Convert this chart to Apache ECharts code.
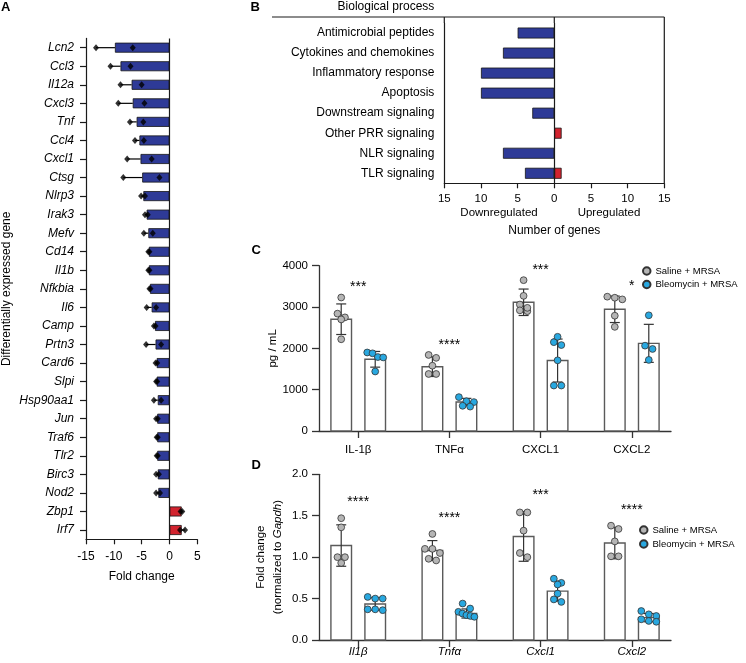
<!DOCTYPE html>
<html><head><meta charset="utf-8">
<script src="https://cdn.jsdelivr.net/npm/echarts@6/dist/echarts.min.js"></script>
<style>html,body{margin:0;padding:0;background:#fff}#c{width:746px;height:663px}</style>
</head><body><div id="c"></div>
<script>
// ---------- Panel A data ----------
const genes = ['Lcn2','Ccl3','Il12a','Cxcl3','Tnf','Ccl4','Cxcl1','Ctsg','Nlrp3','Irak3','Mefv','Cd14','Il1b','Nfkbia','Il6','Camp','Prtn3','Card6','Slpi','Hsp90aa1','Jun','Traf6','Tlr2','Birc3','Nod2','Zbp1','Irf7'];
const geneFold = [-9.8,-8.8,-6.8,-6.6,-5.9,-5.4,-5.2,-4.9,-4.7,-4.1,-3.8,-3.7,-3.7,-3.5,-3.2,-2.6,-2.5,-2.3,-2.3,-2.1,-2.2,-2.2,-2.2,-2.1,-2.0,2.2,2.2];
const geneRep1 = [-13.2,-10.6,-8.8,-9.2,-7.1,-6.2,-7.6,-8.3,-5.1,-4.4,-4.6,-3.8,-3.8,-3.6,-4.1,-2.8,-4.2,-2.5,-2.4,-2.8,-2.4,-2.3,-2.3,-2.4,-2.4,2.3,2.8];
const geneRep2 = [-6.6,-7.0,-5.0,-4.5,-4.7,-4.6,-3.2,-1.8,-4.4,-3.9,-3.0,-3.6,-3.6,-3.4,-2.4,-2.5,-1.5,-2.2,-2.2,-1.5,-2.1,-2.1,-2.1,-1.9,-1.7,2.0,1.9];
const foldTicks = [-15, 5, 5]; // min, max, interval

// ---------- Panel B data ----------
const processes = ['Antimicrobial peptides','Cytokines and chemokines','Inflammatory response','Apoptosis','Downstream signaling','Other PRR signaling','NLR signaling','TLR signaling'];
const downGenes = [5,7,10,10,3,0,7,4];
const upGenes = [0,0,0,0,0,1,0,1];

// ---------- Panel C data ----------
const cytokines = ['IL-1β','TNFα','CXCL1','CXCL2'];
const cSalineMean = [2705,1556,3115,2945];
const cSalineSD = [370,237,320,320];
const cBleoMean = [1735,700,1705,2121];
const cBleoSD = [190,90,520,460];
const cSalinePts = [[3230,2840,2750,2700,2220],[1840,1770,1580,1380,1380],[3650,3270,3060,2920,2900,2980],[3225,3250,3185,2790,2520]];
const cBleoPts = [[1900,1880,1790,1780,1440],[820,720,700,610,590],[2150,2280,2080,1710,1100,1100],[2800,2065,1985,1720]];
const cSig = ['***','****','***','*'];

// ---------- Panel D data ----------
const dGenes = ['Il1β','Tnfα','Cxcl1','Cxcl2'];
const dSalineMean = [1.14,1.08,1.25,1.17];
const dSalineSD = [0.25,0.12,0.30,0.19];
const dBleoMean = [0.435,0.32,0.59,0.27];
const dBleoSD = [0.075,0.055,0.12,0.05];
const dSalinePts = [[1.47,1.36,1.0,0.93,1.0],[1.28,1.1,1.1,1.05,0.96,0.98],[1.54,1.54,1.32,1.05,1.0],[1.38,1.34,1.19,1.01,1.01]];
const dBleoPts = [[0.52,0.5,0.5,0.37,0.37,0.36],[0.44,0.38,0.34,0.32,0.30,0.29,0.28],[0.74,0.69,0.67,0.56,0.49,0.46],[0.35,0.31,0.29,0.25,0.23,0.22]];
const dSig = ['****','****','***','****'];

const groupNames = ['Saline + MRSA','Bleomycin + MRSA'];

// ---------- styling ----------
const FONT = '"Liberation Sans", Arial, Helvetica, sans-serif';
const BLUE = '#2E3A97', RED = '#D2232E', GRAY_PT = '#B5B5B5', CYAN_PT = '#29A8E0';
const AX = '#1a1a1a';

const chart = echarts.init(document.getElementById('c'), null, {renderer: 'canvas'});

// row-based scatter spreading (pixel space)
function swarm(ys, step, thr, maxSpan) {
  const order = ys.map((y, k) => k).sort((a, b) => ys[a] - ys[b]);
  const xs = new Array(ys.length);
  let row = [];
  const flush = () => {
    const n = row.length;
    const s = n > 1 ? Math.min(step, maxSpan / (n - 1)) : 0;
    row.forEach((k, j) => { xs[k] = (j - (n - 1) / 2) * s; });
    row = [];
  };
  for (const k of order) {
    if (row.length && ys[k] - ys[row[0]] >= thr) flush();
    row.push(k);
  }
  flush();
  return xs;
}

function groupSeries(name, gi, means, sds, pts, color, side) {
  return {
    type: 'custom', name: name, xAxisIndex: gi, yAxisIndex: gi, z: 3,
    itemStyle: {color: color, borderColor: '#333', borderWidth: 0.8},
    data: means.map((m, i) => [i, m]),
    encode: {x: 0, y: 1},
    renderItem: function (params, api) {
      const i = params.dataIndex;
      const m = means[i], sd = sds[i];
      const base = api.coord([i, 0]);
      const cx = base[0] + side * 17;
      const top = api.coord([i, m])[1];
      const hi = api.coord([i, m + sd])[1];
      const lo = api.coord([i, m - sd])[1];
      const ch = [];
      ch.push({type: 'rect', shape: {x: cx - 10.3, y: top, width: 20.6, height: base[1] - top},
        style: {fill: '#fff', stroke: '#5a5a5a', lineWidth: 1.4}});
      ch.push({type: 'line', shape: {x1: cx, y1: hi, x2: cx, y2: lo}, style: {stroke: '#333', lineWidth: 1.2}});
      ch.push({type: 'line', shape: {x1: cx - 5, y1: hi, x2: cx + 5, y2: hi}, style: {stroke: '#333', lineWidth: 1.2}});
      ch.push({type: 'line', shape: {x1: cx - 5, y1: lo, x2: cx + 5, y2: lo}, style: {stroke: '#333', lineWidth: 1.2}});
      const ys = pts[i].map(v => api.coord([i, v])[1]);
      const xs = swarm(ys, 7.5, 5, 16);
      ys.forEach((y, k) => {
        ch.push({type: 'circle', shape: {cx: cx + xs[k], cy: y, r: 3.4},
          style: {fill: color, stroke: '#333', lineWidth: 0.8}});
      });
      return {type: 'group', children: ch};
    }
  };
}

function sigSeries(gi, sig, sm, ssd, sp, bm, bsd, bp, gap) {
  return {
    type: 'custom', xAxisIndex: gi, yAxisIndex: gi, z: 4, silent: true,
    data: sig.map((s, i) => [i, sm[i]]),
    encode: {x: 0, y: 1},
    renderItem: function (params, api) {
      const i = params.dataIndex;
      const top = Math.max(...sp[i], ...bp[i], sm[i] + ssd[i], bm[i] + bsd[i]);
      const p = api.coord([i, top]);
      return {type: 'text', x: p[0], y: p[1] - gap,
        style: {text: sig[i], fill: '#000', font: '14px ' + FONT, align: 'center', verticalAlign: 'middle'}};
    }
  };
}

const txt = (s, extra) => Object.assign({color: '#000', fontFamily: FONT, fontSize: s}, extra || {});

const option = {
  backgroundColor: '#fff',
  animation: false,
  textStyle: {fontFamily: FONT},
  grid: [
    {left: 86, top: 38.4, width: 111.3, height: 500.9},
    {left: 444.3, top: 23, width: 220, height: 160.3},
    {left: 319, top: 265.7, width: 352, height: 165.3},
    {left: 319, top: 474.3, width: 352, height: 165.7}
  ],
  xAxis: [
    {gridIndex: 0, type: 'value', min: foldTicks[0], max: foldTicks[1], interval: foldTicks[2],
      axisLine: {show: true, onZero: false, lineStyle: {color: AX, width: 1.2}},
      axisTick: {show: true, length: 5, lineStyle: {color: AX, width: 1.2}},
      axisLabel: txt(12, {margin: 11}), splitLine: {show: false},
      name: 'Fold change', nameLocation: 'middle', nameGap: 31, nameTextStyle: txt(12)},
    {gridIndex: 1, type: 'value', min: -15, max: 15, interval: 5,
      axisLine: {show: true, onZero: false, lineStyle: {color: AX, width: 1.2}},
      axisTick: {show: true, length: 5, lineStyle: {color: AX, width: 1.2}},
      axisLabel: txt(11.5, {margin: 10, formatter: v => String(Math.abs(v))}), splitLine: {show: false},
      name: 'Number of genes', nameLocation: 'middle', nameGap: 41, nameTextStyle: txt(12)},
    {gridIndex: 2, type: 'value', min: -0.43, max: 3.43,
      axisLine: {show: true, onZero: false, lineStyle: {color: '#333', width: 1.3}},
      axisTick: {show: true, length: 7, customValues: [0, 1, 2, 3], lineStyle: {color: '#333', width: 1.3}},
      axisLabel: txt(11.5, {margin: 13, customValues: [0, 1, 2, 3], formatter: v => cytokines[Math.round(v)]}),
      splitLine: {show: false}},
    {gridIndex: 3, type: 'value', min: -0.43, max: 3.43,
      axisLine: {show: true, onZero: false, lineStyle: {color: '#333', width: 1.3}},
      axisTick: {show: true, length: 7, customValues: [0, 1, 2, 3], lineStyle: {color: '#333', width: 1.3}},
      axisLabel: txt(11.5, {margin: 6, fontStyle: 'italic', customValues: [0, 1, 2, 3], formatter: v => dGenes[Math.round(v)]}),
      splitLine: {show: false}}
  ],
  yAxis: [
    {gridIndex: 0, type: 'category', data: genes, inverse: true,
      axisLine: {show: true, onZero: false, lineStyle: {color: AX, width: 1.2}},
      axisTick: {show: true, length: 6, alignWithLabel: true, lineStyle: {color: AX, width: 1.2}},
      axisLabel: txt(12, {fontStyle: 'italic', margin: 12}),
      name: 'Differentially expressed gene', nameLocation: 'middle', nameRotate: 90, nameGap: 73, nameTextStyle: txt(12)},
    {gridIndex: 1, type: 'category', data: processes, inverse: true,
      axisLine: {show: true, onZero: false, lineStyle: {color: AX, width: 1.2}},
      axisTick: {show: false},
      axisLabel: txt(12, {margin: 10})},
    {gridIndex: 2, type: 'value', min: 0, max: 4000, interval: 1000,
      axisLine: {show: true, onZero: false, lineStyle: {color: '#333', width: 1.3}},
      axisTick: {show: true, length: 7, lineStyle: {color: '#333', width: 1.3}},
      axisLabel: txt(11.5, {margin: 11, formatter: v => String(v)}), splitLine: {show: false},
      name: 'pg / mL', nameLocation: 'middle', nameRotate: 90, nameGap: 37, nameTextStyle: txt(11.5)},
    {gridIndex: 3, type: 'value', min: 0, max: 2, interval: 0.5,
      axisLine: {show: true, onZero: false, lineStyle: {color: '#333', width: 1.3}},
      axisTick: {show: true, length: 7, lineStyle: {color: '#333', width: 1.3}},
      axisLabel: txt(11.5, {margin: 11, formatter: v => v.toFixed(1)}), splitLine: {show: false},
      name: 'Fold change\n(normalized to {i|Gapdh})', nameLocation: 'middle', nameRotate: 90, nameGap: 33,
      nameTextStyle: txt(11.5, {lineHeight: 16.5, rich: {i: {fontStyle: 'italic', fontSize: 11.5, fontFamily: FONT, color: '#000'}}})}
  ],
  legend: [
    {data: groupNames, orient: 'vertical', left: 642, top: 266, icon: 'circle', itemWidth: 7.5, itemHeight: 7.5,
      itemGap: 3.5, selectedMode: false, textStyle: txt(9.5), padding: 0},
    {data: groupNames, orient: 'vertical', left: 639, top: 525, icon: 'circle', itemWidth: 7.5, itemHeight: 7.5,
      itemGap: 4, selectedMode: false, textStyle: txt(9.5), padding: 0}
  ],
  series: [
    // Panel A bars
    {type: 'bar', xAxisIndex: 0, yAxisIndex: 0, barWidth: 10, z: 2,
      data: geneFold.map(v => ({value: v, itemStyle: {color: v < 0 ? BLUE : RED}})),
      itemStyle: {borderColor: '#151515', borderWidth: 0.8},
      markLine: {silent: true, symbol: 'none', label: {show: false}, animation: false,
        lineStyle: {color: AX, width: 1.2, type: 'solid'}, data: [{xAxis: 0}]}},
    // Panel A error bars (toward the outer replicate)
    {type: 'custom', xAxisIndex: 0, yAxisIndex: 0, z: 3,
      data: genes.map((g, i) => [geneFold[i], i, Math.abs(geneRep1[i]) > Math.abs(geneRep2[i]) ? geneRep1[i] : geneRep2[i]]),
      encode: {x: [0, 2], y: 1},
      renderItem: function (params, api) {
        const a = api.coord([api.value(0), api.value(1)]);
        const b = api.coord([api.value(2), api.value(1)]);
        return {type: 'line', shape: {x1: a[0], y1: a[1], x2: b[0], y2: b[1]}, style: {stroke: '#000', lineWidth: 1.2}};
      }},
    // Panel A replicate points
    {type: 'scatter', xAxisIndex: 0, yAxisIndex: 0, z: 4, symbol: 'diamond', symbolSize: [6, 7],
      itemStyle: {color: '#000'}, data: genes.map((g, i) => [geneRep1[i], i])},
    {type: 'scatter', xAxisIndex: 0, yAxisIndex: 0, z: 4, symbol: 'diamond', symbolSize: [6, 7],
      itemStyle: {color: '#000'}, data: genes.map((g, i) => [geneRep2[i], i])},
    // Panel B
    {type: 'bar', xAxisIndex: 1, yAxisIndex: 1, barWidth: 11, barGap: '-100%',
      data: downGenes.map(v => v ? -v : '-'),
      itemStyle: {color: BLUE, borderColor: '#151515', borderWidth: 0.8},
      markLine: {silent: true, symbol: 'none', label: {show: false}, animation: false,
        lineStyle: {color: AX, width: 1.2, type: 'solid'}, data: [{xAxis: 0}]}},
    {type: 'bar', xAxisIndex: 1, yAxisIndex: 1, barWidth: 11, barGap: '-100%',
      data: upGenes.map(v => v ? v : '-'),
      itemStyle: {color: RED, borderColor: '#151515', borderWidth: 0.8}},
    // Panel C
    groupSeries(groupNames[0], 2, cSalineMean, cSalineSD, cSalinePts, GRAY_PT, -1),
    groupSeries(groupNames[1], 2, cBleoMean, cBleoSD, cBleoPts, CYAN_PT, 1),
    sigSeries(2, cSig, cSalineMean, cSalineSD, cSalinePts, cBleoMean, cBleoSD, cBleoPts, 10),
    // Panel D
    groupSeries(groupNames[0], 3, dSalineMean, dSalineSD, dSalinePts, GRAY_PT, -1),
    groupSeries(groupNames[1], 3, dBleoMean, dBleoSD, dBleoPts, CYAN_PT, 1),
    sigSeries(3, dSig, dSalineMean, dSalineSD, dSalinePts, dBleoMean, dBleoSD, dBleoPts, 16)
  ],
  graphic: [
    {type: 'text', x: 1, y: 7, style: {text: 'A', font: 'bold 13px ' + FONT, fill: '#000', verticalAlign: 'middle'}},
    {type: 'text', x: 250.5, y: 7, style: {text: 'B', font: 'bold 13px ' + FONT, fill: '#000', verticalAlign: 'middle'}},
    {type: 'text', x: 251.5, y: 250, style: {text: 'C', font: 'bold 13px ' + FONT, fill: '#000', verticalAlign: 'middle'}},
    {type: 'text', x: 251.5, y: 465.5, style: {text: 'D', font: 'bold 13px ' + FONT, fill: '#000', verticalAlign: 'middle'}},
    {type: 'text', x: 434.3, y: 7, style: {text: 'Biological process', font: '12px ' + FONT, fill: '#000', align: 'right', verticalAlign: 'middle'}},
    {type: 'line', shape: {x1: 272, y1: 17, x2: 664.3, y2: 17}, style: {stroke: AX, lineWidth: 1.2}},
    {type: 'line', shape: {x1: 664.3, y1: 17, x2: 664.3, y2: 183.3}, style: {stroke: AX, lineWidth: 1.2}},
    {type: 'line', shape: {x1: 444.3, y1: 17, x2: 444.3, y2: 23}, style: {stroke: AX, lineWidth: 1.2}},
    {type: 'line', shape: {x1: 554.3, y1: 17, x2: 554.3, y2: 23}, style: {stroke: AX, lineWidth: 1.2}},
    {type: 'text', x: 499, y: 212.5, style: {text: 'Downregulated', font: '11.5px ' + FONT, fill: '#000', align: 'center', verticalAlign: 'middle'}},
    {type: 'text', x: 609, y: 212.5, style: {text: 'Upregulated', font: '11.5px ' + FONT, fill: '#000', align: 'center', verticalAlign: 'middle'}}
  ]
};
chart.setOption(option);
</script>
</body></html>
